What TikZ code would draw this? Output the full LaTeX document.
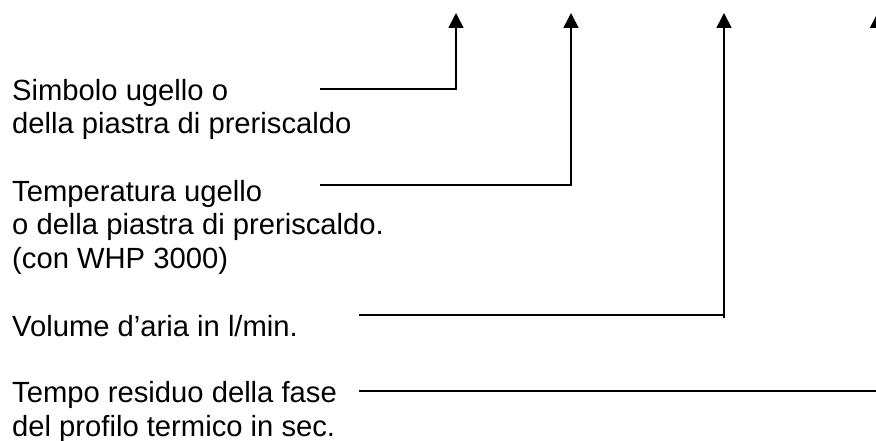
\documentclass[tikz,border=0pt]{standalone}
\usepackage{fontspec}
\setmainfont{Liberation Sans}
\usetikzlibrary{arrows.meta,calc}
\begin{document}
\begin{tikzpicture}[x=1pt,y=-1pt,
  label text/.style={anchor=base west, inner sep=0pt, align=left,
    font=\fontsize{29.2}{33.4}\selectfont},
  leader/.style={line width=1.6pt},
  pointer/.style={leader, -{Triangle[width=15pt,length=15pt]}}]
\useasboundingbox (0,0) rectangle (876,441);
\clip (0,0) rectangle (876,441);

% Legend texts (placed by the baseline of their last line)
\node[label text] (sym)  at (12,134) {Simbolo ugello o\\della piastra di preriscaldo};
\node[label text] (temp) at (12,268) {Temperatura ugello\\o della piastra di preriscaldo.\\(con WHP 3000)};
\node[label text] (vol)  at (12,336) {Volume d’aria in l/min.};
\node[label text] (time) at (12,436) {Tempo residuo della fase\\del profilo termico in sec.};

% Leader start points and arrow tips
\coordinate (symS)  at (320,89);  \coordinate (symT)  at (456,13);
\coordinate (tempS) at (320,185); \coordinate (tempT) at (571,13);
\coordinate (volS)  at (359,315); \coordinate (volT)  at (724,13);
\coordinate (timeS) at (359,391); \coordinate (timeT) at (877.5,13);

% Leaders
\draw[pointer] (symS) -| (symT);
\draw[pointer] (tempS) -| (tempT);
\draw[leader] (volS) -- (volS -| volT);
\draw[pointer] ($(volS -| volT)+(0,2.5)$) -- (volT);
\draw[pointer] (timeS) -| (timeT);
\end{tikzpicture}
\end{document}
